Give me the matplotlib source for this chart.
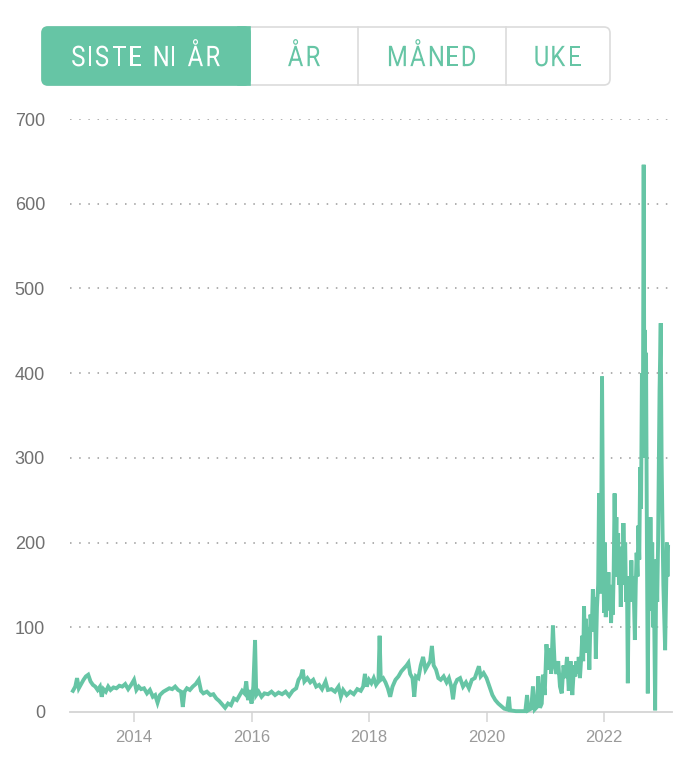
import matplotlib.pyplot as plt
from matplotlib.patches import FancyBboxPatch, Rectangle, PathPatch
from matplotlib.textpath import TextPath
from matplotlib.font_manager import FontProperties
from matplotlib.transforms import Affine2D

# price series (decimal year, value)
years = [
    2012.96, 2013.00, 2013.03, 2013.06, 2013.10, 2013.14, 2013.18, 2013.22, 2013.26, 2013.30,
    2013.34, 2013.38, 2013.42, 2013.45, 2013.48, 2013.52, 2013.56, 2013.60, 2013.65, 2013.70,
    2013.75, 2013.80, 2013.85, 2013.90, 2013.95, 2014.00, 2014.04, 2014.08, 2014.12, 2014.17,
    2014.22, 2014.27, 2014.32, 2014.36, 2014.40, 2014.44, 2014.50, 2014.55, 2014.60, 2014.65,
    2014.70, 2014.75, 2014.80, 2014.83, 2014.86, 2014.90, 2014.95, 2015.00, 2015.05, 2015.10,
    2015.14, 2015.18, 2015.24, 2015.30, 2015.35, 2015.40, 2015.45, 2015.50, 2015.55, 2015.60,
    2015.65, 2015.70, 2015.75, 2015.80, 2015.84, 2015.88, 2015.91, 2015.94, 2015.97, 2016.00,
    2016.03, 2016.06, 2016.08, 2016.12, 2016.17, 2016.22, 2016.28, 2016.34, 2016.40, 2016.46,
    2016.52, 2016.58, 2016.64, 2016.70, 2016.76, 2016.80, 2016.84, 2016.87, 2016.90, 2016.95,
    2017.00, 2017.05, 2017.10, 2017.15, 2017.20, 2017.26, 2017.30, 2017.36, 2017.42, 2017.48,
    2017.52, 2017.56, 2017.62, 2017.68, 2017.74, 2017.80, 2017.86, 2017.90, 2017.93, 2017.96,
    2018.00, 2018.04, 2018.08, 2018.12, 2018.16, 2018.18, 2018.20, 2018.24, 2018.28, 2018.32,
    2018.36, 2018.40, 2018.45, 2018.50, 2018.55, 2018.60, 2018.64, 2018.67, 2018.70, 2018.74,
    2018.77, 2018.80, 2018.84, 2018.88, 2018.92, 2018.96, 2019.00, 2019.04, 2019.07, 2019.10,
    2019.14, 2019.18, 2019.22, 2019.27, 2019.32, 2019.36, 2019.40, 2019.43, 2019.46, 2019.50,
    2019.55, 2019.60, 2019.65, 2019.70, 2019.75, 2019.80, 2019.84, 2019.87, 2019.90, 2019.95,
    2020.00, 2020.05, 2020.10, 2020.15, 2020.20, 2020.25, 2020.30, 2020.35, 2020.38, 2020.40,
    2020.50, 2020.60, 2020.66, 2020.69, 2020.71, 2020.76, 2020.79, 2020.82, 2020.86, 2020.88,
    2020.91, 2020.94, 2020.96, 2020.99, 2021.02, 2021.05, 2021.08, 2021.10, 2021.13, 2021.16,
    2021.19, 2021.22, 2021.25, 2021.28, 2021.31, 2021.34, 2021.37, 2021.40, 2021.43, 2021.46,
    2021.49, 2021.51, 2021.53, 2021.55, 2021.57, 2021.59, 2021.61, 2021.63, 2021.645, 2021.66,
    2021.675, 2021.69, 2021.71, 2021.73, 2021.75, 2021.77, 2021.79, 2021.81, 2021.83, 2021.845,
    2021.86, 2021.88, 2021.90, 2021.915, 2021.93, 2021.95, 2021.966, 2021.985, 2022.00, 2022.015,
    2022.03, 2022.045, 2022.06, 2022.075, 2022.09, 2022.105, 2022.12, 2022.135, 2022.15, 2022.165,
    2022.18, 2022.195, 2022.21, 2022.225, 2022.24, 2022.255, 2022.27, 2022.285, 2022.30, 2022.315,
    2022.33, 2022.345, 2022.36, 2022.375, 2022.39, 2022.405, 2022.42, 2022.435, 2022.45, 2022.465,
    2022.48, 2022.495, 2022.51, 2022.525, 2022.54, 2022.555, 2022.57, 2022.585, 2022.60, 2022.615,
    2022.63, 2022.645, 2022.66, 2022.675, 2022.685, 2022.695, 2022.705, 2022.715, 2022.73, 2022.745,
    2022.76, 2022.775, 2022.79, 2022.805, 2022.82, 2022.835, 2022.85, 2022.87, 2022.89, 2022.905,
    2022.92, 2022.945, 2022.965, 2022.98, 2022.995, 2023.01, 2023.025, 2023.04, 2023.055, 2023.07,
    2023.08, 2023.09,
]
pris = [
    25, 30, 40, 28, 33, 38, 42, 44, 36, 32,
    30, 26, 30, 18, 27, 24, 30, 26, 29, 28,
    31, 30, 33, 27, 32, 38, 26, 30, 27, 28,
    22, 26, 18, 20, 11, 20, 24, 26, 28, 27,
    30, 26, 24, 6, 24, 28, 26, 30, 33, 38,
    25, 22, 24, 20, 21, 16, 13, 9, 5, 10,
    8, 16, 14, 20, 25, 22, 36, 14, 26, 10,
    30, 85, 20, 24, 18, 22, 21, 24, 20, 23,
    21, 24, 19, 25, 28, 38, 42, 50, 36, 40,
    35, 38, 30, 32, 27, 36, 26, 27, 24, 30,
    18, 26, 20, 24, 21, 27, 25, 30, 45, 30,
    38, 34, 40, 32, 36, 90, 38, 40, 35, 28,
    18, 30, 38, 42, 48, 52, 55, 58, 45, 40,
    18, 42, 40, 55, 65, 50, 55, 60, 78, 55,
    50, 40, 38, 42, 35, 40, 30, 15, 32, 38,
    40, 30, 35, 28, 38, 40, 48, 54, 42, 46,
    40, 30, 20, 14, 10, 7, 4, 3, 18, 2,
    1, 1, 1, 20, 2, 4, 30, 3, 6, 42,
    5, 10, 44, 20, 80, 50, 75, 45, 102, 55,
    45, 60, 30, 22, 55, 40, 65, 25, 60, 20,
    55, 42, 60, 45, 65, 40, 62, 90, 60, 125,
    70, 110, 80, 100, 50, 115, 95, 145, 100, 135,
    63, 124, 150, 258, 140, 200, 396, 195, 117, 200,
    112, 160, 130, 165, 120, 150, 105, 140, 115, 170,
    258, 180, 230, 160, 211, 150, 180, 124, 195, 150,
    223, 175, 200, 130, 160, 34, 140, 160, 130, 179,
    140, 160, 130, 85, 150, 188, 160, 220, 180, 289,
    240, 400, 300, 646, 380, 451, 320, 424, 200, 22,
    171, 120, 230, 140, 200, 100, 140, 2, 180, 130,
    200, 380, 459, 300, 219, 150, 110, 73, 140, 200,
    160, 195,
]

y_ticks = [0, 100, 200, 300, 400, 500, 600, 700]
x_ticks = [2014, 2016, 2018, 2020, 2022]
x_labels = ["2014", "2016", "2018", "2020", "2022"]
knapper = ["SISTE NI ÅR", "ÅR", "MÅNED", "UKE"]

green = "#66c5a5"


def spaced_text(ax, cx, cy, s, color, size=28.5, sx=0.84, gap=4.5, space=9):
    # letter-spaced, slightly condensed caps, in pixel coordinates
    prop = FontProperties(family="Roboto")
    glyphs = []
    cursor = 0
    for ch in s:
        if ch == " ":
            cursor += space
            continue
        p = TextPath((0, 0), ch, size=size, prop=prop)
        e = p.get_extents()
        glyphs.append((p, cursor - e.x0 * sx))
        cursor += e.width * sx + gap
    width = cursor - gap
    x0 = cx - width / 2
    base = cy + 0.711 * size / 2
    for p, off in glyphs:
        tr = Affine2D().scale(sx, -1).translate(x0 + off, base)
        ax.add_patch(PathPatch(tr.transform_path(p), fc=color, ec="none", lw=0))


fig = plt.figure(figsize=(6.9, 7.61), dpi=100)

ax = fig.add_axes([70 / 690, 49 / 761, 602 / 690, 593 / 761])
ax.plot(years, pris, color=green, lw=2.8, solid_joinstyle="miter", clip_on=False, zorder=3)
ax.set_xlim(2012.91, 2023.157)
ax.set_ylim(0, 700)

for v in y_ticks[1:]:
    ax.axhline(v, color="#9a9a9a", lw=1.1, ls=(0, (1, 5)), zorder=1)

for s in ["top", "right", "left"]:
    ax.spines[s].set_visible(False)
ax.spines["bottom"].set_color("#d4d4d4")
ax.spines["bottom"].set_linewidth(1.3)

ax.set_yticks(y_ticks)
ax.set_yticklabels([str(v) for v in y_ticks], fontsize=13, color="#707070",
                   fontfamily="Liberation Sans")
ax.tick_params(axis="y", length=0, pad=18)
ax.set_xticks(x_ticks)
ax.set_xticklabels(x_labels, fontsize=12, color="#9a9a9a", fontfamily="Liberation Sans")
ax.tick_params(axis="x", length=7, width=1.1, color="#d4d4d4", pad=6)

# segmented control at the top, drawn in pixel coordinates
top = fig.add_axes([0, 0, 1, 1], zorder=5)
top.set_xlim(0, 690)
top.set_ylim(761, 0)
top.axis("off")

left, right, y0, y1 = 42, 610, 27, 85
edges = [42, 250, 358, 506, 610]

top.add_patch(FancyBboxPatch((left, y0), right - left, y1 - y0,
                             boxstyle="round,pad=0,rounding_size=6",
                             fc="white", ec="#dcdcdc", lw=1.2))
top.add_patch(FancyBboxPatch((left, y0), edges[1] - left, y1 - y0,
                             boxstyle="round,pad=0,rounding_size=6",
                             fc=green, ec=green, lw=1.2))
top.add_patch(Rectangle((edges[1] - 12, y0), 12, y1 - y0, fc=green, ec=green, lw=1.2))
for xd in edges[2:4]:
    top.plot([xd, xd], [y0, y1], color="#dcdcdc", lw=1.2)

for i, lab in enumerate(knapper):
    cx = (edges[i] + edges[i + 1]) / 2
    spaced_text(top, cx, 56, lab, "white" if i == 0 else green)

fig.savefig("out.png", dpi=100)
